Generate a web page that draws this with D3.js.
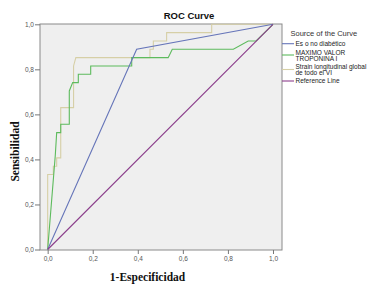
<!DOCTYPE html>
<html>
<head>
<meta charset="utf-8">
<script src="https://cdn.jsdelivr.net/npm/d3@7"></script>
<style>
  html, body { margin: 0; padding: 0; background: #fff; }
  svg { display: block; }
</style>
</head>
<body>
<div id="chart"></div>
<script>
// ROC curve, SPSS look

const ticks = [0, 0.2, 0.4, 0.6, 0.8, 1.0];

const seriesNames = [
  ['Es o no diabético'],
  ['MAXIMO VALOR', 'TROPONINA I'],
  ['Strain longitudinal global', 'de todo el VI'],
  ['Reference Line']
];
const seriesColors = ['#6675b9', '#5dbb5d', '#d6cfa6', '#8c3f8c'];

// [1 - especificidad, sensibilidad]
const diabetico = [[0, 0], [0.395, 0.889], [1, 1]];

const troponina = [
  [0, 0], [0.034, 0.42], [0.04, 0.519], [0.058, 0.519], [0.058, 0.556],
  [0.096, 0.556], [0.096, 0.704], [0.111, 0.741], [0.136, 0.741],
  [0.136, 0.778], [0.191, 0.778], [0.191, 0.815], [0.373, 0.815],
  [0.373, 0.852], [0.535, 0.852], [0.553, 0.889], [0.824, 0.889],
  [0.89, 0.926], [0.925, 0.926], [1, 1]
];

const strain = [
  [0, 0], [0, 0.333], [0.025, 0.333], [0.025, 0.37], [0.04, 0.37],
  [0.04, 0.407], [0.058, 0.407], [0.058, 0.63], [0.115, 0.63],
  [0.115, 0.815], [0.125, 0.852], [0.454, 0.852], [0.454, 0.889],
  [0.469, 0.889], [0.469, 0.926], [0.528, 0.926], [0.528, 0.963],
  [0.728, 0.963], [0.728, 1], [1, 1]
];

const reference = [[0, 0], [1, 1]];

const W = 378, H = 304;
const svg = d3.select('#chart').append('svg')
  .attr('width', W).attr('height', H);

const x = d3.scaleLinear().domain([-0.034, 1.04]).range([40, 282]);
const y = d3.scaleLinear().domain([0, 1]).range([249.5, 24.3]);

const fontSans = 'Arial, "Liberation Sans", sans-serif';
const fontSerif = '"Times New Roman", "Liberation Serif", serif';

// plot frame
svg.append('rect')
  .attr('x', x(-0.034)).attr('y', 24)
  .attr('width', x(1.04) - x(-0.034)).attr('height', 250 - 24)
  .attr('fill', '#efefef')
  .attr('stroke', '#8a8a8a').attr('stroke-width', 1);

// axes
const fmt = d => d3.format('.1f')(d).replace('.', ',');

const yAxis = svg.append('g')
  .attr('transform', 'translate(40,0)')
  .call(d3.axisLeft(y).tickValues(ticks).tickSize(5).tickPadding(1).tickFormat(fmt));
yAxis.select('.domain').remove();
yAxis.selectAll('line').attr('stroke', '#777');
yAxis.selectAll('text').attr('font-size', '6.5px').attr('font-family', fontSans).attr('fill', '#555');

const xAxis = svg.append('g')
  .attr('transform', 'translate(0,250)')
  .call(d3.axisBottom(x).tickValues(ticks).tickSize(4).tickPadding(2).tickFormat(fmt));
xAxis.select('.domain').remove();
xAxis.selectAll('line').attr('stroke', '#777');
xAxis.selectAll('text').attr('font-size', '6.5px').attr('font-family', fontSans).attr('fill', '#555');

// curves
const line = d3.line().x(d => x(d[0])).y(d => y(d[1]));
const curves = [
  { data: strain, c: 2 },
  { data: troponina, c: 1 },
  { data: diabetico, c: 0 },
  { data: reference, c: 3 }
];
svg.selectAll('.curve').data(curves).enter().append('path')
  .attr('class', 'curve')
  .attr('d', d => line(d.data))
  .attr('fill', 'none')
  .attr('stroke', d => seriesColors[d.c])
  .attr('stroke-width', 1.1);

// titles
svg.append('text')
  .attr('x', 189).attr('y', 19)
  .attr('text-anchor', 'middle')
  .attr('font-family', fontSans).attr('font-weight', 'bold')
  .attr('font-size', '9.5px').attr('fill', '#111')
  .text('ROC Curve');

svg.append('text')
  .attr('x', 147.5).attr('y', 281)
  .attr('text-anchor', 'middle')
  .attr('font-family', fontSerif).attr('font-weight', 'bold')
  .attr('font-size', '11.5px').attr('fill', '#111')
  .text('1-Especificidad');

svg.append('text')
  .attr('transform', 'translate(19,151.5) rotate(-90)')
  .attr('text-anchor', 'middle')
  .attr('font-family', fontSerif).attr('font-weight', 'bold')
  .attr('font-size', '11.5px').attr('fill', '#111')
  .text('Sensibilidad');

// legend
const legend = svg.append('g');
legend.append('text')
  .attr('x', 290.5).attr('y', 35.5)
  .attr('font-family', fontSans).attr('font-size', '7.5px').attr('fill', '#333')
  .text('Source of the Curve');

const lineYs = [43.7, 55, 69.5, 81];
const textYs = [[46], [54.5, 60.6], [69, 75], [83.4]];

seriesNames.forEach((lines, i) => {
  legend.append('line')
    .attr('x1', 282).attr('x2', 294)
    .attr('y1', lineYs[i]).attr('y2', lineYs[i])
    .attr('stroke', seriesColors[i]).attr('stroke-width', 1.1);
  lines.forEach((t, j) => {
    legend.append('text')
      .attr('x', 295.5).attr('y', textYs[i][j])
      .attr('font-family', fontSans).attr('font-size', '6.5px').attr('fill', '#222')
      .text(t);
  });
});
</script>
</body>
</html>
